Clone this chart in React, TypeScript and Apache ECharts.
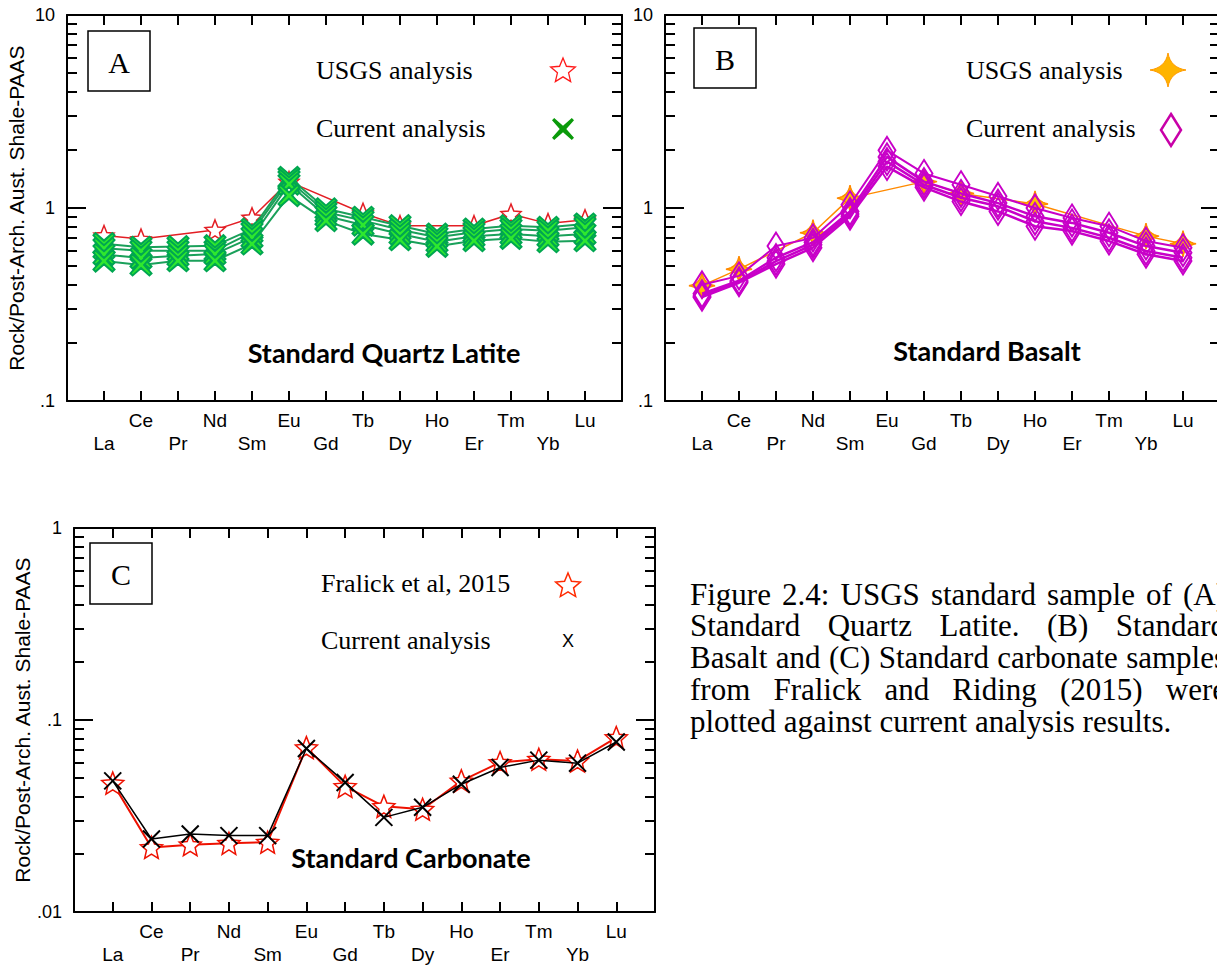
import React, { useEffect, useRef } from 'react';
import * as echarts from 'echarts';

// ---------- data ----------
const ELEMENTS = ['La', 'Ce', 'Pr', 'Nd', 'Sm', 'Eu', 'Gd', 'Tb', 'Dy', 'Ho', 'Er', 'Tm', 'Yb', 'Lu'];

// Panel A – Standard Quartz Latite
const A_USGS = [0.72, 0.69, null, 0.77, 0.89, 1.37, null, 0.94, 0.81, null, 0.81, 0.93, 0.83, 0.87];
const A_CUR_1 = [0.653, 0.626, 0.631, 0.638, 0.778, 1.44, 0.99, 0.895, 0.81, 0.733, 0.778, 0.81, 0.794, 0.826];
const A_CUR_2 = [0.618, 0.6, 0.601, 0.601, 0.748, 1.39, 0.95, 0.86, 0.772, 0.705, 0.748, 0.778, 0.763, 0.794];
const A_CUR_3 = [0.575, 0.55, 0.566, 0.578, 0.705, 1.33, 0.91, 0.816, 0.733, 0.669, 0.713, 0.733, 0.713, 0.733];
const A_CUR_4 = [0.531, 0.507, 0.533, 0.533, 0.651, 1.16, 0.86, 0.733, 0.685, 0.633, 0.677, 0.696, 0.669, 0.677];

// Panel B – Standard Basalt
const B_USGS = [0.396, 0.482, null, 0.744, 1.125, null, 1.37, 1.19, null, 1.05, null, null, 0.715, 0.653];
const B_CUR_1 = [0.4, 0.445, 0.635, 0.7, 1.04, 1.99, 1.51, 1.32, 1.15, 1.0, 0.888, 0.805, 0.674, 0.623];
const B_CUR_2 = [0.36, 0.42, 0.553, 0.665, 0.96, 1.84, 1.37, 1.19, 1.06, 0.906, 0.837, 0.744, 0.635, 0.587];
const B_CUR_3 = [0.35, 0.415, 0.53, 0.645, 0.93, 1.74, 1.32, 1.13, 1.02, 0.854, 0.789, 0.701, 0.599, 0.553];
const B_CUR_4 = [0.345, 0.41, 0.512, 0.623, 0.906, 1.64, 1.28, 1.08, 0.96, 0.805, 0.759, 0.674, 0.576, 0.532];

// Panel C – Standard Carbonate
const C_FRALICK = [0.0469, 0.0217, 0.0224, 0.0228, 0.0231, 0.0718, 0.0451, 0.0355, 0.0343, 0.0482, 0.0601, 0.0625, 0.0612, 0.081];
const C_CURRENT = [0.0482, 0.024, 0.0255, 0.025, 0.025, 0.071, 0.0473, 0.0311, 0.0351, 0.0463, 0.0566, 0.0618, 0.0596, 0.0768];

// ticks
const MINOR_AB = [0.2, 0.3, 0.4, 0.5, 0.6, 0.7, 0.8, 0.9, 2, 3, 4, 5, 6, 7, 8, 9];
const MINOR_C = [0.02, 0.03, 0.04, 0.05, 0.06, 0.07, 0.08, 0.09, 0.2, 0.3, 0.4, 0.5, 0.6, 0.7, 0.8, 0.9];

const Y_NAME = 'Rock/Post-Arch. Aust. Shale-PAAS';
const CAPTION_LINES = [
  'Figure 2.4: USGS standard sample of (A)',
  'Standard Quartz Latite. (B) Standard',
  'Basalt and (C) Standard carbonate samples',
  'from Fralick and Riding (2015) were',
  'plotted against current analysis results.',
];

// ---------- styles ----------
const SANS = '"Liberation Sans", Arial, sans-serif';
const SERIF = '"Liberation Serif", "Times New Roman", serif';
const BOLD = 'Lato, "Open Sans", sans-serif';

const X_UNIT = [[1, 0], [5, 3.5], [9, 0], [10, 1], [6.5, 5], [10, 9], [9, 10], [5, 6.5], [1, 10], [0, 9], [3.5, 5], [0, 1]];

function starUnit(n: number, inner: number) {
  const pts: number[][] = [];
  for (let i = 0; i < n * 2; i++) {
    const r = i % 2 === 0 ? 1 : inner;
    const a = -Math.PI / 2 + (i * Math.PI) / n;
    pts.push([r * Math.cos(a), r * Math.sin(a)]);
  }
  return pts;
}
function fourStarUnit() {
  const pts: number[][] = [];
  const tips = [[0, -1], [1, 0], [0, 1], [-1, 0]];
  for (let k = 0; k < 4; k++) {
    const p0 = tips[k];
    const p2 = tips[(k + 1) % 4];
    const c = [(p0[0] + p2[0]) * 0.14, (p0[1] + p2[1]) * 0.14];
    for (let s = 0; s < 8; s++) {
      const t = s / 8;
      const x = (1 - t) * (1 - t) * p0[0] + 2 * (1 - t) * t * c[0] + t * t * p2[0];
      const y = (1 - t) * (1 - t) * p0[1] + 2 * (1 - t) * t * c[1] + t * t * p2[1];
      pts.push([x, y]);
    }
  }
  return pts;
}
const toPath = (pts: number[][]) =>
  'path://' + pts.map((p, i) => (i ? 'L' : 'M') + (p[0] * 50 + 50).toFixed(2) + ' ' + (p[1] * 50 + 50).toFixed(2)).join(' ') + ' Z';

const STAR_SYMBOL = toPath(starUnit(5, 0.45));
const XTHICK_SYMBOL = toPath(X_UNIT.map((p) => [p[0] / 5 - 1, p[1] / 5 - 1]));
const FOURSTAR_SYMBOL = toPath(fourStarUnit());
const XTHIN_SYMBOL = 'path://M0 0 L100 100 M100 0 L0 100';

const place = (pts: number[][], cx: number, cy: number, rx: number, ry: number) =>
  pts.map((p) => [cx + p[0] * rx, cy + p[1] * ry]);

// ---------- helpers ----------
const fmtY = (v: number) => {
  const n = Number(Number(v).toPrecision(6));
  return n >= 1 ? String(n) : String(n).replace(/^0/, '');
};
const fmtX = (v: number) => {
  const i = Math.round(v) - 1;
  if (i < 0 || i >= ELEMENTS.length) return '';
  return i % 2 === 0 ? '\n' + ELEMENTS[i] : ELEMENTS[i];
};
const toData = (arr: (number | null)[]) =>
  arr.map((v, i) => (v == null ? null : [i + 1, v])).filter((d) => d !== null);

const AXIS_LINE = { show: true, onZero: false, lineStyle: { color: '#000', width: 2 } };
const TICK_LINE = { color: '#000', width: 2 };

function xAxes(grid: number) {
  const base: any = {
    gridIndex: grid,
    type: 'value',
    min: 0,
    max: 15,
    interval: 1,
    splitLine: { show: false },
    axisLine: AXIS_LINE,
    axisTick: { show: true, inside: true, length: 10, lineStyle: TICK_LINE },
  };
  return [
    {
      ...base,
      position: 'bottom',
      axisLabel: {
        show: true,
        formatter: fmtX,
        margin: 8,
        fontSize: 19,
        lineHeight: 23,
        fontFamily: SANS,
        color: '#000',
        showMinLabel: true,
        showMaxLabel: true,
      },
    },
    { ...base, position: 'top', axisLabel: { show: false } },
  ];
}

function yAxes(grid: number, min: number, max: number, minor: number[], name: string) {
  const common: any = { gridIndex: grid, type: 'log', logBase: 10, min, max, splitLine: { show: false } };
  return [
    {
      ...common,
      position: 'left',
      axisLine: AXIS_LINE,
      axisTick: { show: true, inside: true, length: 19, lineStyle: TICK_LINE },
      axisLabel: { show: true, formatter: fmtY, margin: 12, fontSize: 18, fontFamily: SANS, color: '#000' },
      name,
      nameLocation: 'middle',
      nameGap: 40,
      nameRotate: 90,
      nameTextStyle: { fontSize: 21, fontFamily: SANS, color: '#000' },
    },
    {
      ...common,
      position: 'left',
      axisLine: { show: false, onZero: false },
      axisTick: { show: true, inside: true, length: 10, customValues: minor, lineStyle: TICK_LINE },
      axisLabel: { show: false },
    },
    {
      ...common,
      position: 'right',
      axisLine: AXIS_LINE,
      axisTick: { show: true, inside: true, length: 19, lineStyle: TICK_LINE },
      axisLabel: { show: false },
    },
    {
      ...common,
      position: 'right',
      axisLine: { show: false, onZero: false },
      axisTick: { show: true, inside: true, length: 10, customValues: minor, lineStyle: TICK_LINE },
      axisLabel: { show: false },
    },
  ];
}

function lineSeries(name: string, data: (number | null)[], xi: number, yi: number, symbol: string, size: any, item: any, line: any, z: number) {
  return {
    type: 'line',
    name,
    xAxisIndex: xi,
    yAxisIndex: yi,
    data: toData(data),
    symbol,
    symbolSize: size,
    symbolKeepAspect: false,
    showSymbol: true,
    itemStyle: item,
    lineStyle: line,
    z,
    silent: true,
  };
}

// caption justification using canvas measurement
function captionElements(x0: number, width: number, y0: number, step: number, size: number) {
  const ctx = document.createElement('canvas').getContext('2d') as CanvasRenderingContext2D;
  ctx.font = `${size}px "Liberation Serif"`;
  const out: any[] = [];
  CAPTION_LINES.forEach((line, li) => {
    const y = y0 + li * step;
    const last = li === CAPTION_LINES.length - 1;
    if (last) {
      out.push({ type: 'text', x: x0, y, style: { text: line, fontSize: size, fontFamily: SERIF, fill: '#000', align: 'left', verticalAlign: 'middle' } });
      return;
    }
    const words = line.split(' ');
    const widths = words.map((w) => ctx.measureText(w).width);
    const total = widths.reduce((a, b) => a + b, 0);
    const gap = (width - total) / (words.length - 1);
    let x = x0;
    words.forEach((w, i) => {
      out.push({ type: 'text', x, y, style: { text: w, fontSize: size, fontFamily: SERIF, fill: '#000', align: 'left', verticalAlign: 'middle' } });
      x += widths[i] + gap;
    });
  });
  return out;
}

function boxLabel(letter: string, x: number, y: number, w: number, h: number) {
  return [
    { type: 'rect', shape: { x, y, width: w, height: h }, style: { fill: '#fff', stroke: '#000', lineWidth: 1.5 }, z: 10 },
    { type: 'text', x: x + w / 2, y: y + h / 2 + 1, style: { text: letter, fontSize: 30, fontFamily: SERIF, fill: '#000', align: 'center', verticalAlign: 'middle' }, z: 11 },
  ];
}
const legendText = (text: string, x: number, y: number, size = 26) => ({
  type: 'text',
  x,
  y,
  style: { text, fontSize: size, fontFamily: SERIF, fill: '#000', align: 'left', verticalAlign: 'middle' },
  z: 11,
});
const titleText = (text: string, x: number, y: number) => ({
  type: 'text',
  x,
  y,
  style: { text, fontSize: 27, fontWeight: 'bold', fontFamily: BOLD, fill: '#000', align: 'center', verticalAlign: 'middle' },
  z: 11,
});

export default function App() {
  const ref = useRef<HTMLDivElement>(null);
  useEffect(() => {
    if (!ref.current) return;
    const chart = echarts.init(ref.current, undefined, { renderer: 'svg' });

    const redStarItem = { color: '#fff', borderColor: '#e31e24', borderWidth: 1.5 };
    const greenXItem = { color: '#2ee82e', borderColor: '#00a651', borderWidth: 2 };
    const diamondItem = { color: 'rgba(255,255,255,0)', borderColor: '#c800c8', borderWidth: 2 };
    const orangeItem = { color: '#ffc000', borderColor: '#ff8a00', borderWidth: 1.5 };
    const blackXItem = { color: 'rgba(0,0,0,0)', borderColor: '#000', borderWidth: 2 };

    const series: any[] = [
      lineSeries('USGS analysis (A)', A_USGS, 0, 0, STAR_SYMBOL, 20, redStarItem, { color: '#e31e24', width: 1.5 }, 2),
      lineSeries('Current analysis (A) 1', A_CUR_1, 0, 0, XTHICK_SYMBOL, 21, greenXItem, { color: '#1aa05a', width: 2 }, 3),
      lineSeries('Current analysis (A) 2', A_CUR_2, 0, 0, XTHICK_SYMBOL, 21, greenXItem, { color: '#1aa05a', width: 2 }, 3),
      lineSeries('Current analysis (A) 3', A_CUR_3, 0, 0, XTHICK_SYMBOL, 21, greenXItem, { color: '#1aa05a', width: 2 }, 3),
      lineSeries('Current analysis (A) 4', A_CUR_4, 0, 0, XTHICK_SYMBOL, 21, greenXItem, { color: '#1aa05a', width: 2 }, 3),

      lineSeries('USGS analysis (B)', B_USGS, 2, 4, FOURSTAR_SYMBOL, 26, orangeItem, { color: '#ff8a00', width: 1.5 }, 2),
      lineSeries('Current analysis (B) 1', B_CUR_1, 2, 4, 'diamond', [17, 27], diamondItem, { color: '#c800c8', width: 2 }, 3),
      lineSeries('Current analysis (B) 2', B_CUR_2, 2, 4, 'diamond', [17, 27], diamondItem, { color: '#c800c8', width: 2.5 }, 3),
      lineSeries('Current analysis (B) 3', B_CUR_3, 2, 4, 'diamond', [17, 27], diamondItem, { color: '#c800c8', width: 2.5 }, 3),
      lineSeries('Current analysis (B) 4', B_CUR_4, 2, 4, 'diamond', [17, 27], diamondItem, { color: '#c800c8', width: 2.5 }, 3),

      lineSeries('Fralick et al, 2015', C_FRALICK, 4, 8, STAR_SYMBOL, 22, { color: '#fff', borderColor: '#ee1100', borderWidth: 1.5 }, { color: '#ee1100', width: 2 }, 2),
      lineSeries('Current analysis (C)', C_CURRENT, 4, 8, XTHIN_SYMBOL, 17, blackXItem, { color: '#000', width: 1.5 }, 3),
    ];

    const graphic: any[] = [
      ...boxLabel('A', 88, 31, 62, 60),
      ...boxLabel('B', 694, 28, 62, 60),
      ...boxLabel('C', 90, 543, 62, 61),

      legendText('USGS analysis', 316, 70),
      { type: 'polygon', shape: { points: place(starUnit(5, 0.45), 563, 71, 13, 13) }, style: { fill: '#fff', stroke: '#ff1a1a', lineWidth: 1.3 }, z: 11 },
      legendText('Current analysis', 316, 128),
      { type: 'polygon', shape: { points: place(X_UNIT.map((p) => [p[0] / 5 - 1, p[1] / 5 - 1]), 563, 129, 11, 11) }, style: { fill: '#0a9a0a' }, z: 11 },

      legendText('USGS analysis', 966, 70),
      { type: 'polygon', shape: { points: place(fourStarUnit(), 1168, 70, 18, 17) }, style: { fill: '#ffb400', stroke: '#ff9a00', lineWidth: 1 }, z: 11 },
      legendText('Current analysis', 966, 128),
      { type: 'polygon', shape: { points: place([[0, -1], [1, 0], [0, 1], [-1, 0]], 1171, 130, 10, 16) }, style: { fill: 'none', stroke: '#c800a8', lineWidth: 2.5 }, z: 11 },

      legendText('Fralick et al, 2015', 321, 583, 26),
      { type: 'polygon', shape: { points: place(starUnit(5, 0.45), 568, 586, 13, 13) }, style: { fill: '#fff', stroke: '#ff2a00', lineWidth: 1.5 }, z: 11 },
      legendText('Current analysis', 321, 640, 26),
      { type: 'text', x: 568, y: 641, style: { text: 'X', fontSize: 18, fontFamily: SANS, fill: '#000', align: 'center', verticalAlign: 'middle' }, z: 11 },

      titleText('Standard Quartz Latite', 384, 352),
      titleText('Standard Basalt', 987, 350),
      titleText('Standard Carbonate', 411, 857),

      ...captionElements(690, 536, 594, 31.8, 31),
    ];

    chart.setOption({
      animation: false,
      backgroundColor: '#fff',
      grid: [
        { left: 67, top: 15, width: 555, height: 386 },
        { left: 665, top: 15, width: 555, height: 386 },
        { left: 74, top: 528, width: 581, height: 385 },
      ],
      xAxis: [...xAxes(0), ...xAxes(1), ...xAxes(2)],
      yAxis: [
        ...yAxes(0, 0.1, 10, MINOR_AB, Y_NAME),
        ...yAxes(1, 0.1, 10, MINOR_AB, ''),
        ...yAxes(2, 0.01, 1, MINOR_C, Y_NAME),
      ],
      series,
      graphic,
    });
    return () => chart.dispose();
  }, []);

  return (
    <div style={{ position: 'fixed', left: 0, top: 0, width: 1217, height: 966, overflow: 'hidden', background: '#fff' }}>
      <div ref={ref} style={{ width: 1240, height: 966 }} />
    </div>
  );
}
